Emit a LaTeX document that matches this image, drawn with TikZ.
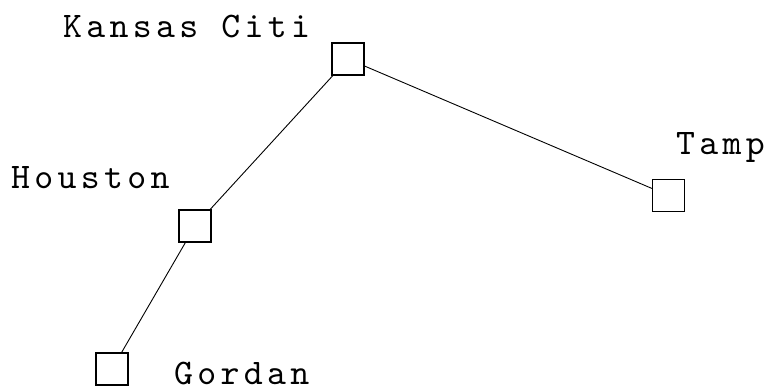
\documentclass[tikz,border=0pt]{standalone}
\usepackage{fontspec}
\setmonofont{lmmono10-regular.otf}[LetterSpace=12]
\begin{document}
\begin{tikzpicture}[x=1pt,y=-1pt,
  city/.style={draw,line width=1.3pt,minimum size=32pt,inner sep=0pt},
  lbl/.style={anchor=base west,inner sep=0pt,text depth=0pt,font=\ttfamily\fontsize{36}{40}\selectfont},
  link/.style={line width=0.9pt}]
\useasboundingbox (0,0) rectangle (768,387);
\node[city] (kc) at (348,59) {};
\node[city] (ho) at (195,226) {};
\node[city] (go) at (112,369) {};
\node[city] (ta) at (668.5,195.5) {};
\node[lbl] (tkc) at (63,38) {Kansas Citi};
\node[lbl] (tho) at (11,189) {Houston};
\node[lbl] (tta) at (676,155) {Tamp};
\node[lbl] (tgo) at (174,384) {Gordan};
\draw[link] (kc) -- (ho);
\draw[link] (ho) -- (go);
\draw[link] (kc) -- (ta);
\end{tikzpicture}
\end{document}
